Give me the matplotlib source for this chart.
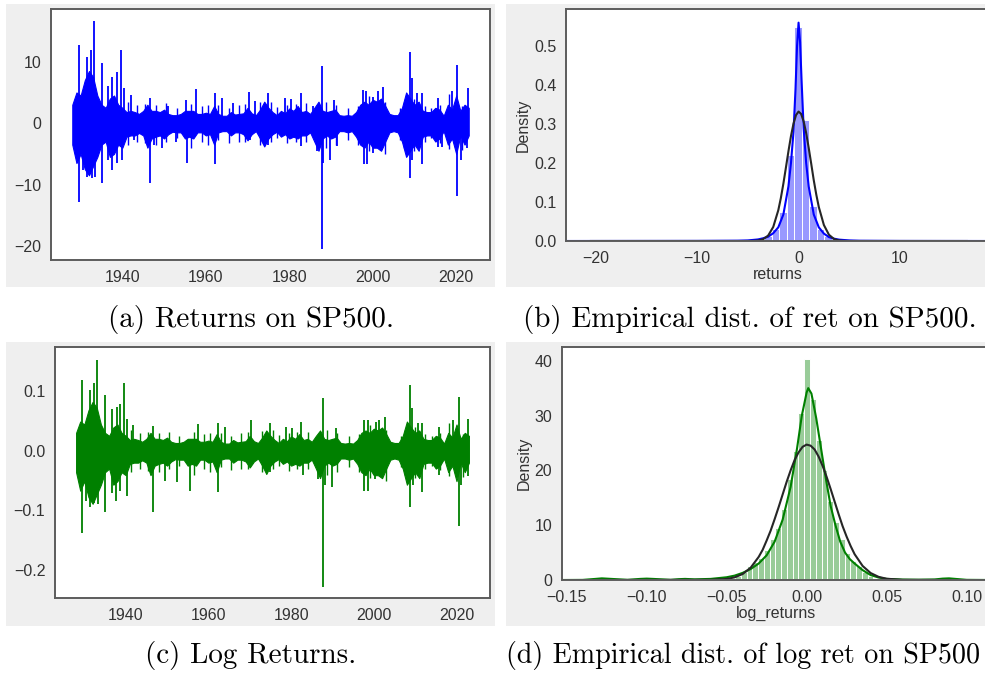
import numpy as np
import matplotlib
matplotlib.use('Agg')
import matplotlib.pyplot as plt
from matplotlib.patches import Rectangle

plt.rcParams['font.family'] = ['Liberation Sans', 'DejaVu Sans']

# ---------------- data ----------------
years = list(range(1928, 2024))

# (a) daily returns, core band per year (upper / lower)
ret_hi = [3.0, 5.0, 4.5, 7.0, 8.5, 7.5, 4.5, 3.0, 2.5, 4.0,
          4.5, 3.0, 2.5, 1.8, 2.0, 1.8, 1.5, 2.0, 3.0, 2.0,
          2.0, 1.8, 2.2, 1.5, 1.3, 1.3, 1.5, 2.0, 2.0, 2.0,
          1.5, 1.5, 1.7, 1.5, 2.8, 1.5, 1.2, 1.2, 1.8, 1.4,
          1.5, 1.6, 2.5, 1.6, 1.3, 2.2, 3.5, 2.5, 1.8, 1.3,
          2.0, 1.6, 2.4, 2.0, 2.8, 1.8, 2.0, 1.5, 2.5, 3.5,
          2.0, 1.8, 2.0, 2.2, 1.3, 1.2, 1.3, 1.2, 1.8, 3.0,
          3.5, 3.0, 3.8, 3.5, 4.0, 2.8, 1.5, 1.3, 1.3, 2.5,
          5.0, 4.0, 3.0, 3.5, 2.0, 1.8, 1.8, 2.5, 2.2, 1.2,
          3.0, 2.2, 4.5, 2.0, 3.0, 2.5]
ret_lo = [-3.5, -6.5, -5.0, -7.5, -8.5, -7.0, -5.5, -3.5, -3.0, -5.5,
          -5.0, -3.5, -4.0, -2.2, -2.0, -2.0, -1.6, -2.0, -4.0, -2.5,
          -2.2, -2.0, -2.5, -1.8, -1.4, -1.5, -1.5, -2.5, -2.2, -2.5,
          -1.5, -1.5, -2.0, -1.8, -3.5, -1.5, -1.3, -1.3, -2.0, -1.5,
          -1.5, -1.8, -2.8, -1.8, -1.3, -2.5, -3.8, -2.5, -1.8, -1.4,
          -2.2, -1.8, -2.5, -2.2, -2.5, -2.0, -2.0, -1.5, -3.0, -4.5,
          -2.5, -2.0, -2.5, -2.2, -1.3, -1.3, -1.5, -1.3, -2.2, -3.5,
          -4.0, -3.0, -4.0, -4.0, -4.5, -3.0, -1.5, -1.3, -1.5, -3.0,
          -5.5, -4.5, -3.5, -4.5, -2.2, -2.0, -2.0, -3.0, -2.5, -1.3,
          -3.5, -2.5, -5.0, -2.0, -3.5, -2.0]

# (a) single big days
ret_up_year = [1929.7, 1931.5, 1932.4, 1933.1, 1935.2, 1936.6, 1937.6, 1938.6, 1939.6,
               1940.5, 1942.0, 1946.6, 1950.9, 1955.3, 1957.7, 1962.2, 1963.8, 1966.6,
               1970.4, 1971.8, 1974.9, 1978.9, 1980.3, 1982.7, 1985.7, 1987.9, 1990.8,
               1997.6, 1998.4, 2000.0, 2001.2, 2002.5, 2008.9, 2009.4, 2010.5, 2011.8,
               2015.7, 2019.0, 2020.3, 2022.9]
ret_up_val = [12.7, 10.8, 11.9, 16.6, 9.8, 6.0, 7.6, 8.4, 11.9,
              5.7, 4.6, 4.1, 2.8, 3.8, 5.5, 4.9, 4.1, 3.3,
              5.1, 3.6, 4.9, 4.1, 4.0, 4.9, 2.8, 9.3, 3.8,
              5.4, 5.2, 4.3, 5.2, 5.9, 11.6, 7.3, 4.9, 4.9,
              4.1, 5.2, 9.5, 5.7]
ret_dn_year = [1929.7, 1930.5, 1931.5, 1932.8, 1933.5, 1935.2, 1936.5, 1937.6, 1938.8,
               1940.0, 1942.8, 1946.6, 1947.6, 1949.6, 1952.9, 1955.6, 1962.2, 1970.5,
               1974.9, 1982.7, 1986.6, 1987.9, 1988.2, 1989.8, 1991.5, 1997.8, 1998.6,
               2000.0, 2001.2, 2002.3, 2008.9, 2009.5, 2011.8, 2015.7, 2016.5, 2019.0,
               2020.3, 2021.1, 2022.7]
ret_dn_val = [-12.9, -7.6, -8.7, -9.0, -8.7, -9.8, -6.0, -7.6, -6.5,
              -6.0, -2.7, -9.8, -3.5, -4.0, -3.0, -6.5, -6.6, -2.7,
              -3.5, -3.8, -4.6, -20.5, -6.5, -6.0, -3.8, -6.6, -6.6,
              -4.9, -4.1, -4.4, -9.0, -6.0, -6.6, -3.9, -3.9, -2.7,
              -11.8, -6.0, -4.1]
# (a) smaller jags along the band
ret_jag_year = [1941.3, 1943.5, 1945.5, 1948.0, 1950.5, 1953.0, 1956.5, 1959.0, 1960.5,
                1963.0, 1965.5, 1968.0, 1969.5, 1973.0, 1975.5, 1977.0, 1979.5, 1981.5,
                1984.0, 1988.7, 1991.2, 1994.0, 1996.5, 1999.0, 2003.0, 2006.5, 2007.5,
                2010.0, 2012.5, 2014.0, 2016.0, 2018.2, 2021.5]
ret_jag_up = [3.5, 3.0, 3.2, 3.0, 3.3, 2.5, 3.2, 2.8, 3.0,
              3.0, 2.5, 3.0, 3.2, 3.4, 3.5, 2.7, 3.0, 3.2,
              3.3, 3.5, 3.0, 2.5, 2.8, 4.5, 3.5, 2.5, 3.5,
              4.0, 2.8, 2.5, 3.0, 4.8, 2.8]
ret_jag_dn = [-3.5, -3.0, -3.3, -3.5, -3.0, -2.5, -4.0, -3.0, -3.5,
              -2.8, -3.2, -3.0, -3.0, -3.5, -3.0, -2.5, -3.3, -3.0,
              -3.0, -4.0, -3.5, -2.8, -3.5, -4.5, -5.0, -2.8, -4.0,
              -4.5, -3.0, -2.5, -3.2, -4.2, -4.3]

# (c) log returns, core band per year
log_hi = [0.030, 0.049, 0.044, 0.068, 0.082, 0.072, 0.044, 0.030, 0.025, 0.039,
          0.044, 0.030, 0.025, 0.018, 0.020, 0.018, 0.015, 0.020, 0.030, 0.020,
          0.020, 0.018, 0.022, 0.015, 0.013, 0.013, 0.015, 0.020, 0.020, 0.020,
          0.015, 0.015, 0.017, 0.015, 0.028, 0.015, 0.012, 0.012, 0.018, 0.014,
          0.015, 0.016, 0.025, 0.016, 0.013, 0.022, 0.034, 0.025, 0.018, 0.013,
          0.020, 0.016, 0.024, 0.020, 0.028, 0.018, 0.020, 0.015, 0.025, 0.034,
          0.020, 0.018, 0.020, 0.022, 0.013, 0.012, 0.013, 0.012, 0.018, 0.030,
          0.034, 0.030, 0.037, 0.034, 0.039, 0.028, 0.015, 0.013, 0.013, 0.025,
          0.049, 0.039, 0.030, 0.034, 0.020, 0.018, 0.018, 0.025, 0.022, 0.012,
          0.030, 0.022, 0.044, 0.020, 0.030, 0.025]
log_lo = [-0.036, -0.067, -0.051, -0.078, -0.089, -0.073, -0.057, -0.036, -0.030, -0.057,
          -0.051, -0.036, -0.041, -0.022, -0.020, -0.020, -0.016, -0.020, -0.041, -0.025,
          -0.022, -0.020, -0.025, -0.018, -0.014, -0.015, -0.015, -0.025, -0.022, -0.025,
          -0.015, -0.015, -0.020, -0.018, -0.036, -0.015, -0.013, -0.013, -0.020, -0.015,
          -0.015, -0.018, -0.028, -0.018, -0.013, -0.025, -0.039, -0.025, -0.018, -0.014,
          -0.022, -0.018, -0.025, -0.022, -0.025, -0.020, -0.020, -0.015, -0.030, -0.046,
          -0.025, -0.020, -0.025, -0.022, -0.013, -0.013, -0.015, -0.013, -0.022, -0.036,
          -0.041, -0.030, -0.041, -0.041, -0.046, -0.030, -0.015, -0.013, -0.015, -0.030,
          -0.057, -0.046, -0.036, -0.046, -0.022, -0.020, -0.020, -0.030, -0.025, -0.013,
          -0.036, -0.025, -0.051, -0.020, -0.036, -0.020]

log_up_year = [1929.5, 1931.3, 1932.3, 1933.0, 1935.1, 1936.7, 1937.8, 1938.6, 1939.5,
               1940.4, 1941.8, 1946.6, 1957.6, 1962.3, 1963.9, 1970.4, 1974.8, 1978.7,
               1980.3, 1982.4, 1987.8, 1990.9, 1997.7, 1998.7, 2000.5, 2001.3, 2002.6,
               2008.8, 2009.3, 2010.7, 2011.7, 2015.8, 2019.2, 2020.5, 2022.9]
log_up_val = [0.118, 0.102, 0.113, 0.153, 0.093, 0.070, 0.074, 0.079, 0.113,
              0.054, 0.043, 0.042, 0.045, 0.046, 0.040, 0.051, 0.046, 0.040,
              0.038, 0.049, 0.088, 0.038, 0.051, 0.051, 0.049, 0.051, 0.057,
              0.110, 0.071, 0.046, 0.046, 0.040, 0.051, 0.090, 0.054]
log_dn_year = [1929.5, 1930.4, 1931.4, 1932.3, 1933.2, 1935.1, 1936.6, 1937.7, 1938.6,
               1940.3, 1946.6, 1949.6, 1952.4, 1955.5, 1962.3, 1974.8, 1982.8, 1986.6,
               1987.8, 1988.2, 1989.8, 1997.7, 1998.5, 2000.3, 2001.3, 2008.8, 2009.5,
               2011.7, 2015.8, 2020.5, 2021.2, 2022.9]
log_dn_val = [-0.138, -0.085, -0.094, -0.088, -0.090, -0.102, -0.071, -0.085, -0.068,
              -0.076, -0.102, -0.050, -0.052, -0.068, -0.069, -0.035, -0.040, -0.048,
              -0.229, -0.058, -0.061, -0.068, -0.068, -0.048, -0.040, -0.094, -0.058,
              -0.069, -0.040, -0.127, -0.058, -0.043]
log_jag_year = [1941.3, 1943.5, 1945.5, 1948.0, 1950.5, 1953.0, 1956.5, 1959.0, 1960.5,
                1963.0, 1965.5, 1968.0, 1969.5, 1973.0, 1975.5, 1977.0, 1979.5, 1981.5,
                1984.0, 1988.7, 1991.2, 1994.0, 1996.5, 1999.0, 2003.0, 2006.5, 2007.5,
                2010.0, 2012.5, 2014.0, 2016.0, 2018.2, 2021.5]
log_jag_up = [0.034, 0.030, 0.031, 0.030, 0.032, 0.025, 0.031, 0.028, 0.030,
              0.030, 0.025, 0.030, 0.031, 0.033, 0.034, 0.027, 0.030, 0.031,
              0.032, 0.034, 0.030, 0.025, 0.028, 0.044, 0.034, 0.025, 0.034,
              0.039, 0.028, 0.025, 0.030, 0.047, 0.028]
log_jag_dn = [-0.036, -0.030, -0.034, -0.036, -0.030, -0.025, -0.041, -0.030, -0.036,
              -0.028, -0.033, -0.030, -0.030, -0.036, -0.030, -0.025, -0.034, -0.030,
              -0.030, -0.041, -0.036, -0.028, -0.036, -0.046, -0.051, -0.028, -0.041,
              -0.046, -0.030, -0.025, -0.033, -0.043, -0.044]

# (b) histogram / kde / normal fit of returns
ret_bins = [-4.888, -4.146, -3.404, -2.662, -1.920, -1.178, -0.436, 0.306,
            1.048, 1.790, 2.532, 3.274, 4.016, 4.758]
ret_dens = [0.003, 0.007, 0.014, 0.030, 0.075, 0.220, 0.550, 0.310,
            0.090, 0.030, 0.012, 0.005, 0.002]
ret_kde_x = [-22.9, -10.0, -6.0, -5.0, -4.0, -3.5, -3.0, -2.5, -2.0, -1.5, -1.0, -0.75,
             -0.5, -0.3, -0.15, 0.0, 0.15, 0.3, 0.5, 0.75, 1.0, 1.5, 2.0, 2.5, 3.0,
             3.5, 4.0, 5.0, 6.0, 10.0, 18.9]
ret_kde_y = [0.0, 0.0003, 0.0008, 0.0015, 0.004, 0.007, 0.011, 0.020, 0.035, 0.068, 0.140, 0.200,
             0.280, 0.390, 0.500, 0.560, 0.510, 0.410, 0.290, 0.200, 0.140, 0.068, 0.035, 0.019, 0.010,
             0.006, 0.0035, 0.0015, 0.0007, 0.0002, 0.0]
ret_norm_x = [-20.5, -5.0, -4.5, -4.0, -3.5, -3.0, -2.5, -2.0, -1.75, -1.5, -1.25, -1.0,
              -0.75, -0.5, -0.25, 0.0, 0.25, 0.5, 0.75, 1.0, 1.25, 1.5, 1.75, 2.0,
              2.5, 3.0, 3.5, 4.0, 4.5, 5.0, 16.6]
ret_norm_y = [0.0, 0.0, 0.0003, 0.0012, 0.0046, 0.014, 0.036, 0.079, 0.110, 0.147, 0.188, 0.230,
              0.269, 0.301, 0.323, 0.332, 0.326, 0.307, 0.277, 0.239, 0.198, 0.156, 0.119, 0.087,
              0.041, 0.016, 0.0051, 0.0014, 0.0003, 0.0, 0.0]

# (d) histogram / kde / normal fit of log returns
log_bins = [-0.0447, -0.0411, -0.0375, -0.0339, -0.0303, -0.0267, -0.0231, -0.0195,
            -0.0159, -0.0123, -0.0087, -0.0051, -0.0015, 0.0021, 0.0057, 0.0093,
            0.0129, 0.0165, 0.0201, 0.0237, 0.0273, 0.0309, 0.0345, 0.0381, 0.0417]
log_dens = [0.8, 1.5, 2.5, 3.2, 4.0, 5.5, 7.5, 9.5, 13.0, 18.5, 23.5, 30.5,
            40.4, 33.0, 25.5, 20.0, 14.5, 10.5, 7.5, 5.0, 3.5, 2.5, 1.5, 0.8]
log_kde_x = [-0.153, -0.14, -0.132, -0.128, -0.122, -0.112, -0.104, -0.1, -0.096, -0.085,
             -0.08, -0.076, -0.07, -0.06, -0.05, -0.045, -0.04, -0.035, -0.03, -0.025,
             -0.02, -0.015, -0.01, -0.006, -0.003, 0.0, 0.001, 0.003, 0.006, 0.009,
             0.012, 0.015, 0.018, 0.021, 0.024, 0.027, 0.03, 0.035, 0.04, 0.045,
             0.05, 0.06, 0.07, 0.08, 0.085, 0.089, 0.093, 0.1, 0.115]
log_kde_y = [0.0, 0.02, 0.2, 0.3, 0.2, 0.03, 0.2, 0.25, 0.2, 0.03,
             0.15, 0.2, 0.12, 0.2, 0.5, 0.8, 1.3, 2.0, 3.0, 4.5,
             7.0, 11.0, 17.0, 24.0, 30.0, 34.2, 35.0, 34.0, 29.5, 24.0,
             18.5, 13.5, 10.0, 7.0, 5.0, 3.8, 3.0, 1.8, 0.9, 0.45,
             0.2, 0.08, 0.05, 0.1, 0.25, 0.3, 0.2, 0.03, 0.0]
log_norm_x = [-0.13, -0.06, -0.05, -0.045, -0.04, -0.035, -0.03, -0.0275, -0.025, -0.0225,
              -0.02, -0.0175, -0.015, -0.0125, -0.01, -0.0075, -0.005, -0.0025, 0.0, 0.0025,
              0.005, 0.0075, 0.01, 0.0125, 0.015, 0.0175, 0.02, 0.0225, 0.025, 0.0275,
              0.03, 0.035, 0.04, 0.045, 0.05, 0.06, 0.09]
log_norm_y = [0.0, 0.03, 0.19, 0.48, 1.09, 2.24, 4.2, 5.5, 7.2, 9.0,
              11.1, 13.3, 15.6, 17.9, 20.0, 21.9, 23.3, 24.3, 24.7, 24.5,
              23.8, 22.5, 20.8, 18.8, 16.6, 14.3, 12.0, 9.8, 7.9, 6.2,
              4.7, 2.56, 1.27, 0.57, 0.23, 0.03, 0.0]

# ---------------- figure ----------------
W, H = 985.0, 673.0
fig = plt.figure(figsize=(W / 100, H / 100), dpi=100)
fig.patch.set_facecolor('white')


def box(x0, y0, x1, y1):
    # pixel box (origin top-left) -> figure fraction
    return [x0 / W, 1 - y1 / H, (x1 - x0) / W, (y1 - y0) / H]


# grey screenshot backgrounds
for x0, y0, x1, y1 in [(6, 4, 495, 287), (506, 4, 990, 287),
                       (6, 342, 495, 626), (506, 342, 990, 626)]:
    r = box(x0, y0, x1, y1)
    fig.add_artist(Rectangle((r[0], r[1]), r[2], r[3], transform=fig.transFigure,
                             facecolor='#efefef', edgecolor='none', zorder=-5))


def style_ax(ax):
    ax.set_facecolor('white')
    for s in ax.spines.values():
        s.set_color('#5c5c5c')
        s.set_linewidth(1.4)
    ax.tick_params(length=0, pad=7, labelsize=11.5, labelcolor='#333333')


def draw_series(ax, hi, lo, up_year, up_val, dn_year, dn_val,
                jag_year, jag_up, jag_dn, color):
    ax.fill_between(years, lo, hi, color=color, lw=0.8)
    ax.vlines(jag_year, jag_dn, jag_up, color=color, lw=1.0)
    ax.vlines(up_year, 0, up_val, color=color, lw=1.3)
    ax.vlines(dn_year, dn_val, 0, color=color, lw=1.3)
    ax.set_xticks([1940, 1960, 1980, 2000, 2020])
    ax.set_xlim(1922.9, 2028.1)


def draw_dist(ax, bins, dens, kx, ky, nx, ny, bar_color, line_color, xlabel):
    ax.bar(bins[:-1], dens, width=np.diff(bins), align='edge',
           color=bar_color, edgecolor='white', linewidth=0.7)
    ax.plot(kx, ky, color=line_color, lw=1.5)
    ax.plot(nx, ny, color='#262626', lw=1.5)
    ax.set_xlabel(xlabel, fontsize=11.5, color='#333333', labelpad=1)
    ax.set_ylabel('Density', fontsize=11.5, color='#333333', labelpad=2)


# (a) returns
ax_a = fig.add_axes(box(51, 9, 490, 260))
style_ax(ax_a)
draw_series(ax_a, ret_hi, ret_lo, ret_up_year, ret_up_val, ret_dn_year, ret_dn_val,
            ret_jag_year, ret_jag_up, ret_jag_dn, '#0000ff')
ax_a.set_ylim(-22.3, 18.6)
ax_a.set_yticks([-20, -10, 0, 10])

# (b) distribution of returns
ax_b = fig.add_axes(box(566, 9, 990, 241))
style_ax(ax_b)
draw_dist(ax_b, ret_bins, ret_dens, ret_kde_x, ret_kde_y, ret_norm_x, ret_norm_y,
          '#9999ff', '#0000ff', 'returns')
ax_b.set_xlim(-22.96, 18.9)
ax_b.set_ylim(0, 0.595)
ax_b.set_xticks([-20, -10, 0, 10])
ax_b.set_yticks([0.0, 0.1, 0.2, 0.3, 0.4, 0.5])
ax_b.set_yticklabels(['0.0', '0.1', '0.2', '0.3', '0.4', '0.5'])

# (c) log returns
ax_c = fig.add_axes(box(55, 347, 490, 598))
style_ax(ax_c)
draw_series(ax_c, log_hi, log_lo, log_up_year, log_up_val, log_dn_year, log_dn_val,
            log_jag_year, log_jag_up, log_jag_dn, '#008000')
ax_c.set_ylim(-0.247, 0.174)
ax_c.set_yticks([-0.2, -0.1, 0.0, 0.1])

# (d) distribution of log returns
ax_d = fig.add_axes(box(562, 347, 990, 580))
style_ax(ax_d)
draw_dist(ax_d, log_bins, log_dens, log_kde_x, log_kde_y, log_norm_x, log_norm_y,
          '#99cc99', '#008000', 'log_returns')
ax_d.set_xlim(-0.1529, 0.1146)
ax_d.set_ylim(0, 42.5)
ax_d.set_xticks([-0.15, -0.10, -0.05, 0.0, 0.05, 0.10])
ax_d.set_xticklabels(['\u22120.15', '\u22120.10', '\u22120.05', '0.00', '0.05', '0.10'])
ax_d.set_yticks([0, 10, 20, 30, 40])

# LaTeX style captions
cap = dict(family='cmr10', va='center', color='black')
fig.text(251 / W, 1 - 320 / H, '(a) Returns on SP500.', ha='center', size=21, **cap)
fig.text(523 / W, 1 - 320 / H, '(b) Empirical dist. of ret on SP500.', ha='left', size=21, **cap)
fig.text(251 / W, 1 - 656 / H, '(c) Log Returns.', ha='center', size=21, **cap)
fig.text(506 / W, 1 - 656 / H, '(d) Empirical dist. of log ret on SP500', ha='left', size=20.2, **cap)

fig.savefig('out.png', dpi=100)
